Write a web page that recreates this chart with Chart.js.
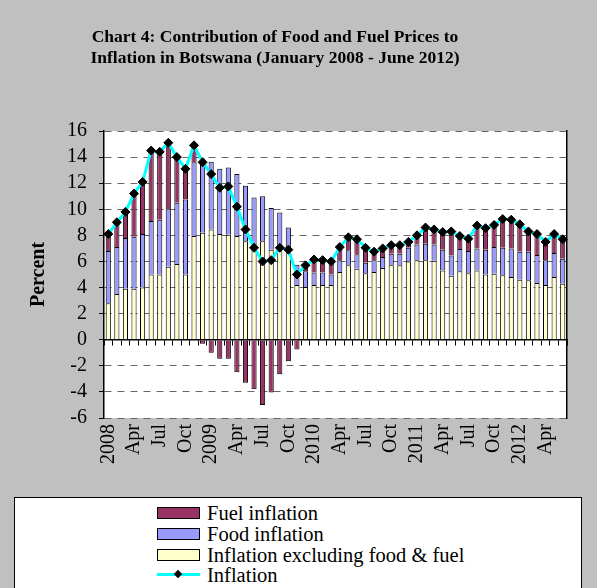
<!DOCTYPE html>
<html>
<head>
<meta charset="utf-8">
<script src="https://cdn.jsdelivr.net/npm/chart.js@4/dist/chart.umd.min.js"></script>
<style>
html,body{margin:0;padding:0;background:#c0c0c0;}
#wrap{position:relative;width:597px;height:588px;overflow:hidden;background:#c0c0c0;font-family:"Liberation Serif","Times New Roman",serif;}
#c{position:absolute;left:0;top:0;}
#title{position:absolute;left:0;width:550px;top:26px;text-align:center;font-weight:bold;font-size:17.5px;line-height:21px;color:#000;font-family:"Liberation Serif","Times New Roman",serif;}
#legend{position:absolute;left:14px;top:497px;width:568px;height:95px;background:#fff;border:1px solid #000;box-sizing:border-box;}
.item{position:absolute;left:142px;height:20px;font-size:20.5px;line-height:20px;white-space:nowrap;color:#000;}
.sw{position:absolute;left:0;top:4px;width:43px;height:12px;border:1px solid #000;box-sizing:border-box;}
.ln{position:absolute;left:0;top:8px;width:43px;height:3px;background:#00ffff;}
.dm{position:absolute;left:18px;top:6px;width:6px;height:6px;background:#000;transform:rotate(45deg);}
.tx{position:absolute;left:50px;top:0;}
</style>
</head>
<body>
<div id="wrap">
  <canvas id="c" width="597" height="588"></canvas>
  <div id="title">Chart 4: Contribution of Food and Fuel Prices to<br>Inflation in Botswana (January 2008 - June 2012)</div>
  <div id="legend"></div>
</div>
<script>
// Categories: monthly, January 2008 - June 2012
const categories = [
 'Jan-08','Feb-08','Mar-08','Apr-08','May-08','Jun-08','Jul-08','Aug-08','Sep-08','Oct-08','Nov-08','Dec-08',
 'Jan-09','Feb-09','Mar-09','Apr-09','May-09','Jun-09','Jul-09','Aug-09','Sep-09','Oct-09','Nov-09','Dec-09',
 'Jan-10','Feb-10','Mar-10','Apr-10','May-10','Jun-10','Jul-10','Aug-10','Sep-10','Oct-10','Nov-10','Dec-10',
 'Jan-11','Feb-11','Mar-11','Apr-11','May-11','Jun-11','Jul-11','Aug-11','Sep-11','Oct-11','Nov-11','Dec-11',
 'Jan-12','Feb-12','Mar-12','Apr-12','May-12','Jun-12'
];
// Axis labels shown every third month
const tickLabels = ['2008','Apr','Jul','Oct','2009','Apr','Jul','Oct','2010','Apr','Jul','Oct','2011','Apr','Jul','Oct','2012','Apr'];

// Inflation excluding food & fuel (contribution, percentage points)
const coreInflation = [
 2.8,3.5,3.9,3.9,4.0,5.0,5.0,5.6,5.8,5.0,7.95,8.2,
 8.45,8.1,8.05,7.95,7.55,6.9,7.55,6.9,7.0,7.0,4.2,4.05,
 4.2,4.2,4.2,5.2,5.7,5.45,5.1,5.2,5.5,5.7,5.7,6.0,
 6.1,6.1,6.05,5.3,4.9,5.25,5.1,5.3,5.0,5.05,4.95,4.8,
 4.6,4.55,4.35,4.2,4.8,4.3
];
// Food inflation contribution
const foodInflation = [
 4.0,3.6,3.9,4.0,4.1,4.1,4.2,4.4,4.7,5.75,5.65,5.7,
 5.2,5.0,5.15,4.75,4.25,4.0,3.45,3.2,2.75,1.6,1.55,1.2,
 0.95,0.95,0.8,0.9,1.15,1.1,0.8,0.9,0.85,0.9,0.9,1.05,
 1.2,1.25,1.25,1.6,1.55,1.7,1.7,1.7,1.9,2.05,2.1,2.2,
 2.15,2.2,2.15,1.9,1.85,1.9
];
// Fuel inflation contribution
const fuelInflation = [
 1.3,1.9,2.0,3.2,4.0,5.4,5.2,5.1,3.5,2.35,1.3,-0.3,
 -1.0,-1.45,-1.45,-2.5,-3.3,-3.8,-5.0,-4.05,-2.65,-1.65,-0.75,0.45,
 1.0,0.95,1.0,1.05,1.0,1.15,1.15,0.65,0.65,0.7,0.65,0.45,
 0.7,1.25,1.2,1.35,1.85,1.0,0.95,1.75,1.7,1.7,2.2,2.2,
 2.1,1.55,1.65,1.4,1.5,1.5
];
// Headline inflation
const inflation = [
 8.1,9.0,9.8,11.2,12.1,14.5,14.4,15.1,14.0,13.1,14.9,13.6,
 12.7,11.65,11.75,10.2,8.45,7.05,6.0,6.1,7.05,6.9,5.0,5.7,
 6.15,6.1,6.0,7.1,7.85,7.7,7.05,6.75,7.0,7.25,7.25,7.5,
 8.0,8.6,8.45,8.25,8.3,7.95,7.75,8.75,8.55,8.8,9.25,9.2,
 8.85,8.3,8.1,7.5,8.1,7.7
];

const FONT = '"Liberation Serif", "Times New Roman", serif';
const yMin = -6, yMax = 16, yStep = 2;

const plotBg = {
  id: 'plotBg',
  beforeDraw(chart) {
    const {ctx, chartArea: a} = chart;
    ctx.save();
    ctx.fillStyle = '#ffffff';
    ctx.fillRect(a.left, a.top, a.right - a.left, a.bottom - a.top);
    ctx.restore();
  }
};

const barCommon = { borderColor: '#000000', borderWidth: 1, barPercentage: 0.6, categoryPercentage: 1.0, stack: 'bars', order: 1 };

const datasets = [
  Object.assign({ type: 'bar', label: 'Inflation excluding food & fuel', data: coreInflation, backgroundColor: '#ffffcc' }, barCommon),
  Object.assign({ type: 'bar', label: 'Food inflation', data: foodInflation, backgroundColor: '#9999ff' }, barCommon),
  Object.assign({ type: 'bar', label: 'Fuel inflation', data: fuelInflation, backgroundColor: '#993366' }, barCommon),
  { type: 'line', label: 'Inflation', data: inflation, borderColor: '#00ffff', borderWidth: 3, tension: 0,
    pointStyle: 'rectRot', pointRadius: 4.5, pointBackgroundColor: '#000', pointBorderColor: '#000', pointBorderWidth: 1,
    stack: 'line', order: 0 }
];

const chart = new Chart(document.getElementById('c'), {
  data: { labels: categories, datasets: datasets },
  plugins: [plotBg],
  options: {
    responsive: false,
    animation: false,
    devicePixelRatio: 1,
    layout: { padding: { top: 131, right: 30, bottom: 90, left: 0 } },
    plugins: { legend: { display: false }, title: { display: false }, tooltip: { enabled: false } },
    scales: {
      x: {
        stacked: true,
        grid: { display: false, drawTicks: false },
        border: { display: false },
        ticks: {
          autoSkip: false, maxRotation: 90, minRotation: 90, padding: 6, color: '#000',
          font: { family: FONT, size: 20 },
          callback: (v, i) => (i % 3 === 0 ? tickLabels[i / 3] : '')
        },
        afterFit: (s) => { s.height = 80; }
      },
      xz: {
        type: 'category',
        position: { y: 0 },
        offset: true,
        grid: { offset: true, drawOnChartArea: false, drawTicks: true, tickLength: 5, tickColor: '#000', tickWidth: 1 },
        border: { display: true, color: '#000', width: 1.5 },
        ticks: { display: false }
      },
      y: {
        stacked: true,
        min: yMin, max: yMax,
        ticks: { stepSize: yStep, autoSkip: false, color: '#000', padding: 12, font: { family: FONT, size: 20 } },
        grid: { color: '#666666', lineWidth: 1, drawTicks: true, tickLength: 5, tickColor: '#000', tickWidth: 1 },
        border: { display: true, color: '#000', width: 1.5, dash: [7, 6] },
        title: { display: true, text: 'Percent', color: '#000', font: { family: FONT, size: 20, weight: 'bold' }, padding: { top: 27, bottom: 0 } },
        afterFit: (s) => { s.width = 104; }
      },
      yr: {
        position: 'right',
        min: yMin, max: yMax,
        grid: { display: false, drawOnChartArea: false, drawTicks: false },
        ticks: { display: false },
        border: { display: true, color: '#000', width: 1.5 },
        afterFit: (s) => { s.width = 0; }
      }
    }
  }
});

// Legend (HTML), built from the chart's datasets
const legendOrder = [2, 1, 0, 3];
const legendEl = document.getElementById('legend');
const rowTops = [5, 26, 47, 67];
legendOrder.forEach((di, k) => {
  const ds = chart.data.datasets[di];
  const item = document.createElement('div');
  item.className = 'item';
  item.style.top = rowTops[k] + 'px';
  if (ds.type === 'line') {
    item.innerHTML = '<div class="ln"></div><div class="dm"></div>';
  } else {
    item.innerHTML = '<div class="sw" style="background:' + ds.backgroundColor + '"></div>';
  }
  const tx = document.createElement('span');
  tx.className = 'tx';
  tx.textContent = ds.label;
  item.appendChild(tx);
  legendEl.appendChild(item);
});
</script>
</body>
</html>
